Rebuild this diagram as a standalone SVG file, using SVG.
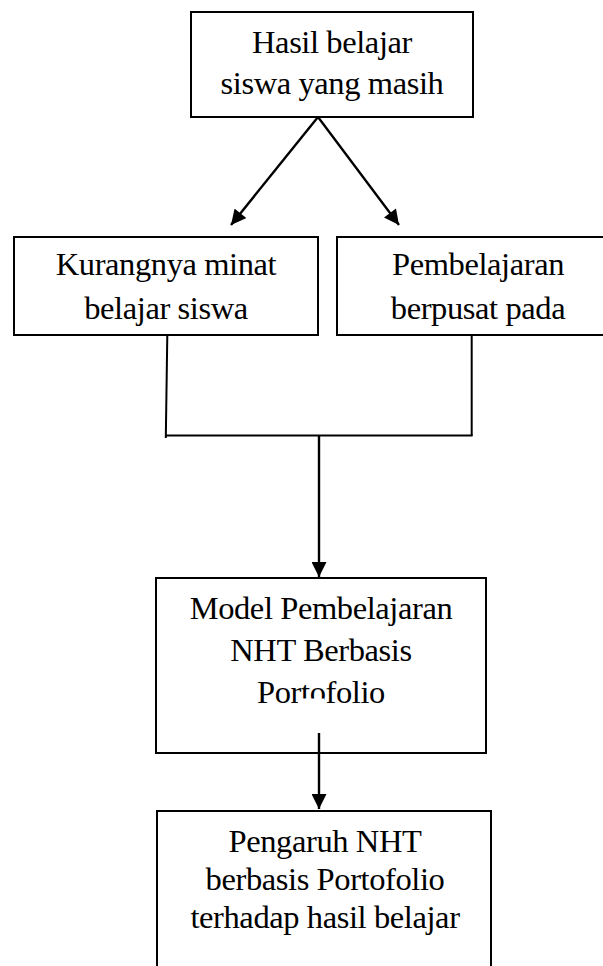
<svg xmlns="http://www.w3.org/2000/svg" width="603" height="966" viewBox="0 0 603 966">
<style>
.box{fill:#fff;stroke:#000;stroke-width:2}
.t{font-family:"Liberation Serif","Times New Roman",serif;font-size:32.5px;letter-spacing:-0.4px;fill:#000;text-anchor:middle}
.ln{stroke:#000;stroke-width:2;fill:none}
.ar{stroke:#000;stroke-width:2.4;fill:none;marker-end:url(#ah)}
</style>
<defs>
<marker id="ah" viewBox="0 0 16 16" refX="16" refY="8" markerWidth="16" markerHeight="15" markerUnits="userSpaceOnUse" orient="auto">
<path d="M0,0 L16,8 L0,16 Z" fill="#000"/>
</marker>
</defs>
<rect width="603" height="966" fill="#fff"/>
<g id="n1">
<rect class="box" x="191" y="12" width="282" height="105"/>
<text class="t" x="332" y="53">Hasil belajar</text>
<text class="t" x="332" y="94">siswa yang masih</text>
</g>
<g id="n2">
<rect class="box" x="14" y="237" width="304" height="98"/>
<text class="t" x="166" y="275">Kurangnya minat</text>
<text class="t" x="166" y="319">belajar siswa</text>
</g>
<g id="n3">
<rect class="box" x="337" y="237" width="282" height="98"/>
<text class="t" x="478" y="275">Pembelajaran</text>
<text class="t" x="478" y="319">berpusat pada</text>
</g>
<g id="n4">
<rect class="box" x="156" y="578" width="330" height="175"/>
<text class="t" x="321" y="619">Model Pembelajaran</text>
<text class="t" x="321" y="661">NHT Berbasis</text>
<text class="t" x="321" y="703">Portofolio</text>
<rect x="298" y="698.5" width="26" height="8" fill="#fff"/>
</g>
<g id="n5">
<rect class="box" x="157" y="811" width="334" height="170"/>
<text class="t" x="325" y="852">Pengaruh NHT</text>
<text class="t" x="325" y="890">berbasis Portofolio</text>
<text class="t" x="325" y="928">terhadap hasil belajar</text>
</g>
<g id="connectors">
<line class="ar" x1="318" y1="117" x2="231" y2="225"/>
<line class="ar" x1="318" y1="117" x2="399" y2="225"/>
<line class="ln" x1="167.3" y1="335" x2="165.8" y2="438"/>
<line class="ln" x1="471.7" y1="335" x2="471.7" y2="436"/>
<line class="ln" x1="166" y1="435.5" x2="472.5" y2="435.5"/>
<line class="ar" x1="319" y1="435" x2="319" y2="577"/>
<line class="ar" x1="319" y1="733" x2="319" y2="809"/>
</g>
</svg>
